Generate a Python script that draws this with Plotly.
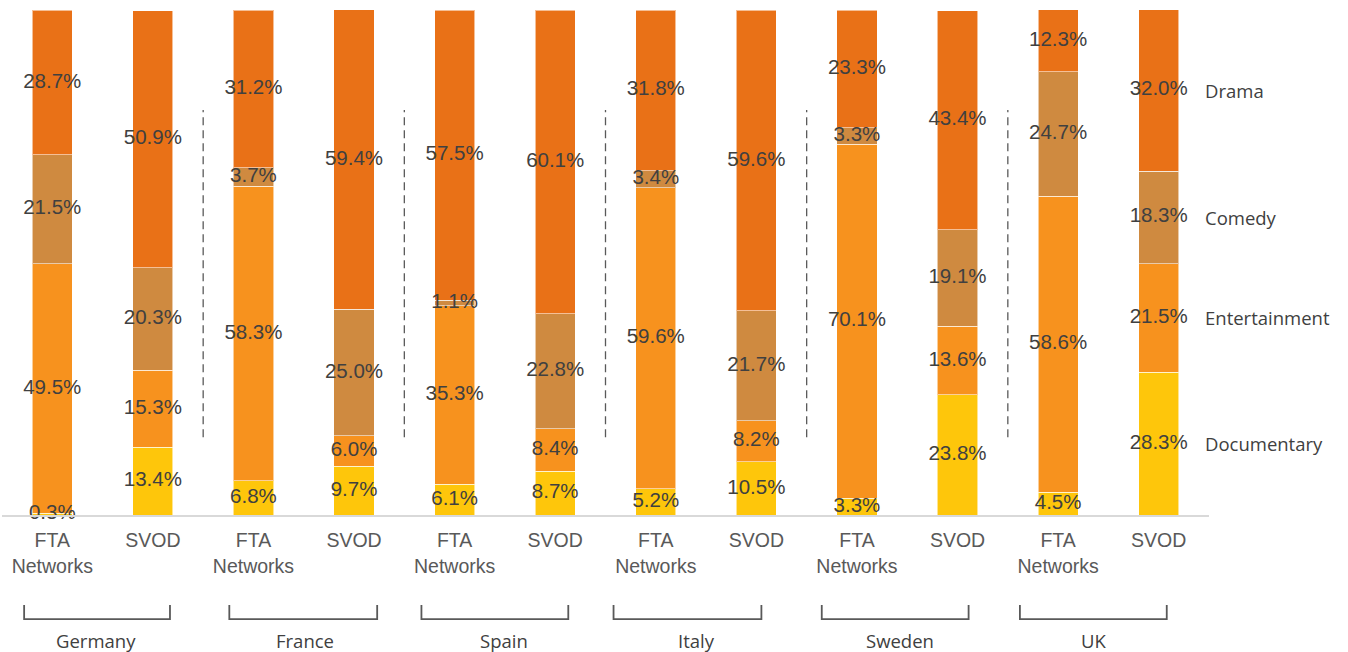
import plotly.graph_objects as go

# Share of titles by genre, FTA networks vs SVOD, per country
countries = ["Germany", "France", "Spain", "Italy", "Sweden", "UK"]
platforms = ["FTA<br>Networks", "SVOD"]

genres = ["Documentary", "Entertainment", "Comedy", "Drama"]
documentary = [0.3, 13.4, 6.8, 9.7, 6.1, 8.7, 5.2, 10.5, 3.3, 23.8, 4.5, 28.3]
entertainment = [49.5, 15.3, 58.3, 6.0, 35.3, 8.4, 59.6, 8.2, 70.1, 13.6, 58.6, 21.5]
comedy = [21.5, 20.3, 3.7, 25.0, 1.1, 22.8, 3.4, 21.7, 3.3, 19.1, 24.7, 18.3]
drama = [28.7, 50.9, 31.2, 59.4, 57.5, 60.1, 31.8, 59.6, 23.3, 43.4, 12.3, 32.0]

colors = {
    "Documentary": "#FEC60B",
    "Entertainment": "#F7921E",
    "Comedy": "#CF8A40",
    "Drama": "#E97117",
}

series = [documentary, entertainment, comedy, drama]
tick_labels = [p for _ in countries for p in platforms]
positions = list(range(len(tick_labels)))

LABEL_FONT = dict(family="Liberation Sans, Arial, sans-serif", size=20.5, color="#404040")
SIDE_FONT = dict(family="Open Sans, sans-serif", size=18.5, color="#404040")

fig = go.Figure()

base = [0.0] * len(positions)
centres = {}
for name, vals in zip(genres, series):
    fig.add_trace(go.Bar(
        x=positions, y=vals, name=name, width=0.4,
        marker=dict(color=colors[name], line=dict(color="rgba(255,255,255,0.55)", width=1)),
        showlegend=False,
    ))
    mids = [b + v / 2 for b, v in zip(base, vals)]
    centres[name] = mids
    fig.add_trace(go.Scatter(
        x=positions, y=mids, mode="text",
        text=[f"{v:.1f}%" for v in vals],
        textposition="middle center",
        textfont=LABEL_FONT, cliponaxis=False,
        showlegend=False, hoverinfo="skip",
    ))
    base = [b + v for b, v in zip(base, vals)]

fig.update_layout(barmode="stack", bargap=0.6)

# Series names beside the last bar
last = positions[-1]
for name in genres:
    fig.add_annotation(
        x=last + 0.44, y=centres[name][-1], xref="x", yref="y",
        text=name, showarrow=False, xanchor="left", yanchor="middle",
        font=SIDE_FONT,
    )

# Dashed separators between country groups
for k in range(1, len(countries)):
    xs = 2 * k - 0.5
    fig.add_shape(type="line", xref="x", yref="y", x0=xs, x1=xs, y0=15.4, y1=80.2,
                  line=dict(color="#595959", width=1.3, dash="8px,5px"))

# Country brackets below the axis
x_lo, x_hi = -0.5, len(positions) - 0.5
def to_paper(v):
    return (v - x_lo) / (x_hi - x_lo)

brackets = [(-0.28, 1.17), (1.76, 3.23), (3.67, 5.13), (5.58, 7.05), (7.65, 9.11), (9.62, 11.08)]
label_x = [0.43, 2.51, 4.49, 6.40, 8.43, 10.35]
for (a, b), cx, name in zip(brackets, label_x, countries):
    pa, pb = to_paper(a), to_paper(b)
    y_top, y_bot = -0.178, -0.206
    fig.add_shape(type="path", xref="paper", yref="paper",
                  path=f"M {pa},{y_top} L {pa},{y_bot} L {pb},{y_bot} L {pb},{y_top}",
                  line=dict(color="#595959", width=1.8))
    fig.add_annotation(x=to_paper(cx), y=-0.248, xref="paper", yref="paper",
                       text=name, showarrow=False, xanchor="center", yanchor="middle",
                       font=dict(family="Open Sans, sans-serif", size=18.5, color="#404040"))

fig.update_layout(
    width=1348, height=652,
    margin=dict(l=2, r=139, t=10, b=137),
    paper_bgcolor="white", plot_bgcolor="white",
    xaxis=dict(
        range=[x_lo, x_hi], tickmode="array", tickvals=positions, ticktext=tick_labels,
        showgrid=False, zeroline=False, showline=True, linecolor="#D9D9D9", linewidth=1.5,
        ticks="", ticklabelstandoff=7,
        tickfont=dict(family="Liberation Sans, Arial, sans-serif", size=19.5, color="#595959"),
    ),
    yaxis=dict(range=[0, 100], visible=False, showgrid=False, zeroline=False),
)

fig.write_html("out.html")
